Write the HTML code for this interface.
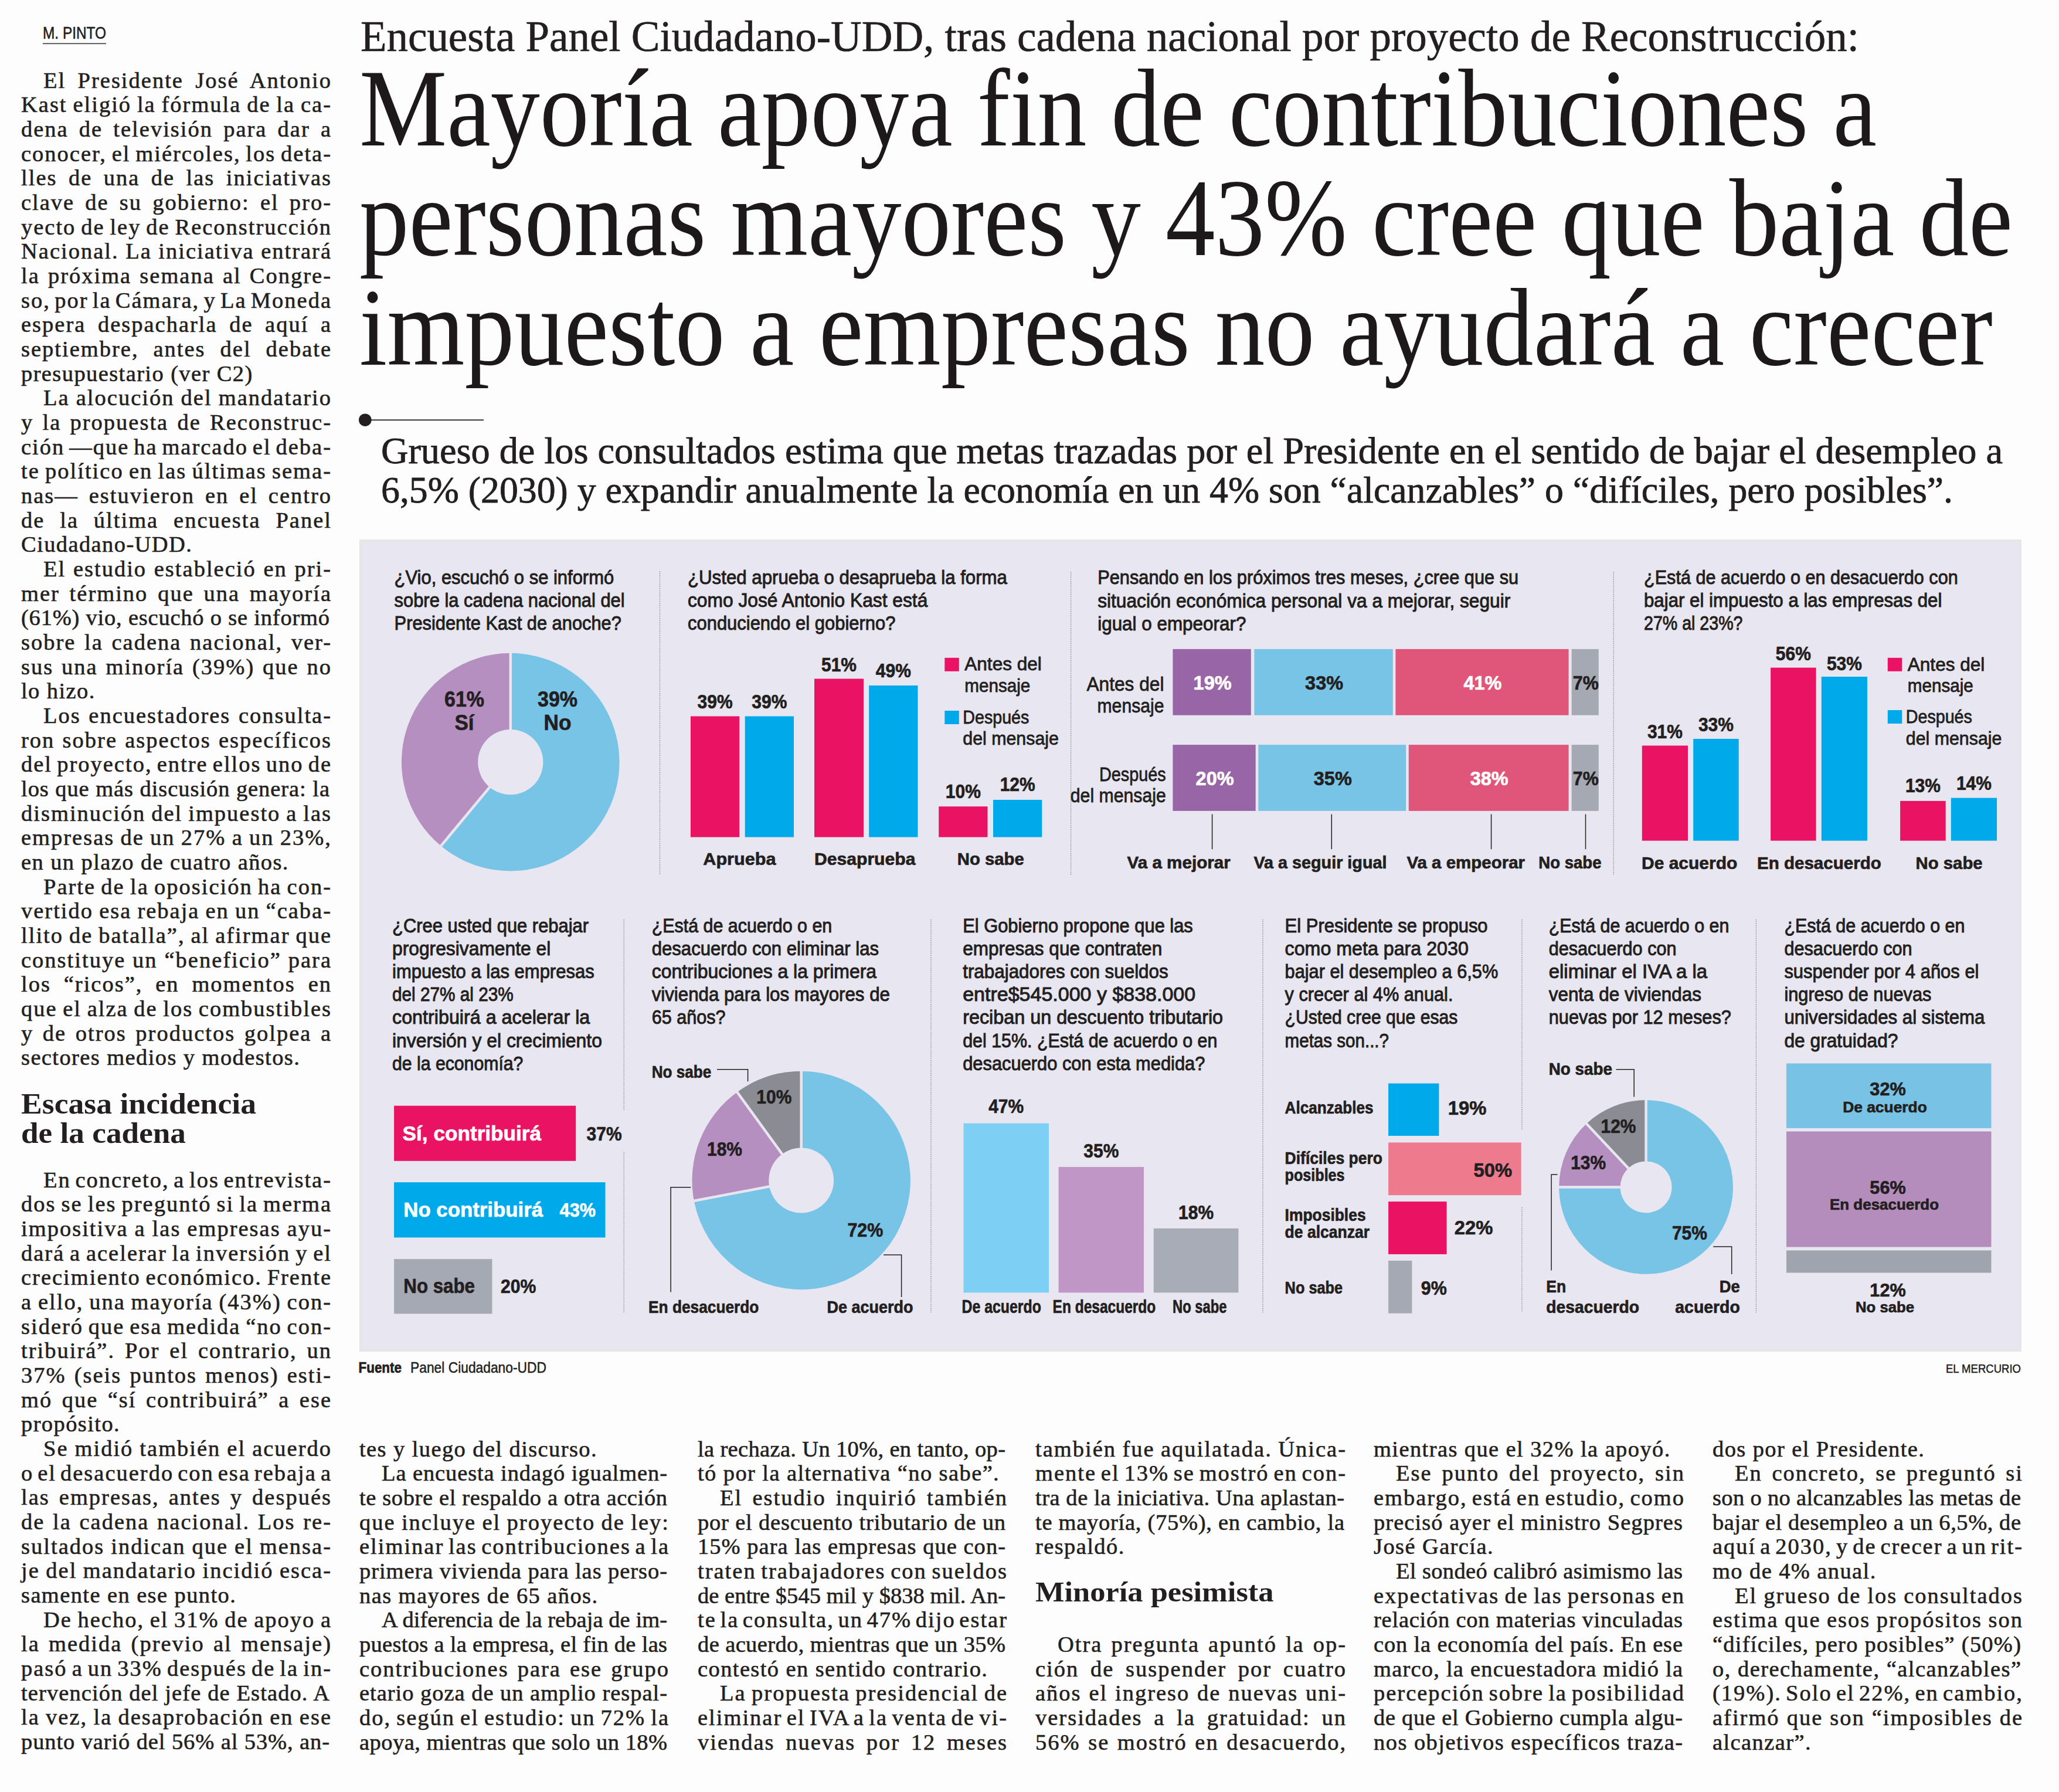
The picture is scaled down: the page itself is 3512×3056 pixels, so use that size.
<!DOCTYPE html>
<html><head><meta charset="utf-8"><style>
html,body{margin:0;padding:0;background:#fdfdfd;overflow:hidden;width:3512px;height:3056px;}
svg{display:block;}
text{font-kerning:normal;}
</style></head><body>
<svg width="3512" height="3056" viewBox="0 0 3512 3056" fill="#231f20">
<rect x="0" y="0" width="3512" height="3056" fill="#fdfdfd"/>
<text x="74.0" y="149.5" font-family="Liberation Serif" font-size="38.5" letter-spacing="2.0" word-spacing="8.72" stroke="#231f20" stroke-width="0.6">El Presidente José Antonio</text>
<text x="36.0" y="191.2" font-family="Liberation Serif" font-size="38.5" letter-spacing="2.0" word-spacing="-1.80" stroke="#231f20" stroke-width="0.6">Kast eligió la fórmula de la ca-</text>
<text x="36.0" y="232.8" font-family="Liberation Serif" font-size="38.5" letter-spacing="2.0" word-spacing="6.53" stroke="#231f20" stroke-width="0.6">dena de televisión para dar a</text>
<text x="36.0" y="274.5" font-family="Liberation Serif" font-size="38.5" letter-spacing="2.0" word-spacing="-2.84" stroke="#231f20" stroke-width="0.6">conocer, el miércoles, los deta-</text>
<text x="36.0" y="316.2" font-family="Liberation Serif" font-size="38.5" letter-spacing="2.0" word-spacing="7.83" stroke="#231f20" stroke-width="0.6">lles de una de las iniciativas</text>
<text x="36.0" y="357.9" font-family="Liberation Serif" font-size="38.5" letter-spacing="2.0" word-spacing="6.52" stroke="#231f20" stroke-width="0.6">clave de su gobierno: el pro-</text>
<text x="36.0" y="399.5" font-family="Liberation Serif" font-size="38.5" letter-spacing="2.0" word-spacing="-2.77" stroke="#231f20" stroke-width="0.6">yecto de ley de Reconstrucción</text>
<text x="36.0" y="441.2" font-family="Liberation Serif" font-size="38.5" letter-spacing="2.0" word-spacing="-0.06" stroke="#231f20" stroke-width="0.6">Nacional. La iniciativa entrará</text>
<text x="36.0" y="482.9" font-family="Liberation Serif" font-size="38.5" letter-spacing="2.0" word-spacing="2.50" stroke="#231f20" stroke-width="0.6">la próxima semana al Congre-</text>
<text x="36.0" y="524.5" font-family="Liberation Serif" font-size="38.5" letter-spacing="2.0" word-spacing="-4.35" stroke="#231f20" stroke-width="0.6">so, por la Cámara, y La Moneda</text>
<text x="36.0" y="566.2" font-family="Liberation Serif" font-size="38.5" letter-spacing="2.0" word-spacing="8.94" stroke="#231f20" stroke-width="0.6">espera despacharla de aquí a</text>
<text x="36.0" y="607.9" font-family="Liberation Serif" font-size="38.5" letter-spacing="2.0" word-spacing="13.33" stroke="#231f20" stroke-width="0.6">septiembre, antes del debate</text>
<text x="36.0" y="649.5" font-family="Liberation Serif" font-size="38.5" letter-spacing="1.4" stroke="#231f20" stroke-width="0.6">presupuestario (ver C2)</text>
<text x="74.0" y="691.2" font-family="Liberation Serif" font-size="38.5" letter-spacing="2.0" word-spacing="-0.45" stroke="#231f20" stroke-width="0.6">La alocución del mandatario</text>
<text x="36.0" y="732.9" font-family="Liberation Serif" font-size="38.5" letter-spacing="2.0" word-spacing="3.61" stroke="#231f20" stroke-width="0.6">y la propuesta de Reconstruc-</text>
<text x="36.0" y="774.6" font-family="Liberation Serif" font-size="38.5" letter-spacing="2.0" word-spacing="-3.73" stroke="#231f20" stroke-width="0.6">ción —que ha marcado el deba-</text>
<text x="36.0" y="816.2" font-family="Liberation Serif" font-size="38.5" letter-spacing="2.0" word-spacing="-2.39" stroke="#231f20" stroke-width="0.6">te político en las últimas sema-</text>
<text x="36.0" y="857.9" font-family="Liberation Serif" font-size="38.5" letter-spacing="2.0" word-spacing="6.25" stroke="#231f20" stroke-width="0.6">nas— estuvieron en el centro</text>
<text x="36.0" y="899.6" font-family="Liberation Serif" font-size="38.5" letter-spacing="2.0" word-spacing="14.23" stroke="#231f20" stroke-width="0.6">de la última encuesta Panel</text>
<text x="36.0" y="941.2" font-family="Liberation Serif" font-size="38.5" letter-spacing="1.4" stroke="#231f20" stroke-width="0.6">Ciudadano-UDD.</text>
<text x="74.0" y="982.9" font-family="Liberation Serif" font-size="38.5" letter-spacing="2.0" word-spacing="1.05" stroke="#231f20" stroke-width="0.6">El estudio estableció en pri-</text>
<text x="36.0" y="1024.6" font-family="Liberation Serif" font-size="38.5" letter-spacing="2.0" word-spacing="5.14" stroke="#231f20" stroke-width="0.6">mer término que una mayoría</text>
<text x="36.0" y="1066.2" font-family="Liberation Serif" font-size="38.5" textLength="528.0" lengthAdjust="spacing" letter-spacing="2.0" stroke="#231f20" stroke-width="0.6">(61%) vio, escuchó o se informó</text>
<text x="36.0" y="1107.9" font-family="Liberation Serif" font-size="38.5" letter-spacing="2.0" word-spacing="3.05" stroke="#231f20" stroke-width="0.6">sobre la cadena nacional, ver-</text>
<text x="36.0" y="1149.6" font-family="Liberation Serif" font-size="38.5" letter-spacing="2.0" word-spacing="2.20" stroke="#231f20" stroke-width="0.6">sus una minoría (39%) que no</text>
<text x="36.0" y="1191.2" font-family="Liberation Serif" font-size="38.5" letter-spacing="1.4" stroke="#231f20" stroke-width="0.6">lo hizo.</text>
<text x="74.0" y="1232.9" font-family="Liberation Serif" font-size="38.5" letter-spacing="2.0" word-spacing="1.98" stroke="#231f20" stroke-width="0.6">Los encuestadores consulta-</text>
<text x="36.0" y="1274.6" font-family="Liberation Serif" font-size="38.5" letter-spacing="2.0" word-spacing="1.65" stroke="#231f20" stroke-width="0.6">ron sobre aspectos específicos</text>
<text x="36.0" y="1316.3" font-family="Liberation Serif" font-size="38.5" letter-spacing="2.0" word-spacing="-3.45" stroke="#231f20" stroke-width="0.6">del proyecto, entre ellos uno de</text>
<text x="36.0" y="1357.9" font-family="Liberation Serif" font-size="38.5" textLength="528.0" lengthAdjust="spacing" letter-spacing="2.0" stroke="#231f20" stroke-width="0.6">los que más discusión genera: la</text>
<text x="36.0" y="1399.6" font-family="Liberation Serif" font-size="38.5" letter-spacing="2.0" word-spacing="-1.73" stroke="#231f20" stroke-width="0.6">disminución del impuesto a las</text>
<text x="36.0" y="1441.3" font-family="Liberation Serif" font-size="38.5" letter-spacing="2.0" word-spacing="-1.37" stroke="#231f20" stroke-width="0.6">empresas de un 27% a un 23%,</text>
<text x="36.0" y="1482.9" font-family="Liberation Serif" font-size="38.5" letter-spacing="1.4" stroke="#231f20" stroke-width="0.6">en un plazo de cuatro años.</text>
<text x="74.0" y="1524.6" font-family="Liberation Serif" font-size="38.5" letter-spacing="2.0" word-spacing="-2.37" stroke="#231f20" stroke-width="0.6">Parte de la oposición ha con-</text>
<text x="36.0" y="1566.3" font-family="Liberation Serif" font-size="38.5" letter-spacing="2.0" word-spacing="-1.53" stroke="#231f20" stroke-width="0.6">vertido esa rebaja en un “caba-</text>
<text x="36.0" y="1608.0" font-family="Liberation Serif" font-size="38.5" letter-spacing="2.0" word-spacing="-1.70" stroke="#231f20" stroke-width="0.6">llito de batalla”, al afirmar que</text>
<text x="36.0" y="1649.6" font-family="Liberation Serif" font-size="38.5" letter-spacing="2.0" word-spacing="0.24" stroke="#231f20" stroke-width="0.6">constituye un “beneficio” para</text>
<text x="36.0" y="1691.3" font-family="Liberation Serif" font-size="38.5" letter-spacing="2.0" word-spacing="10.21" stroke="#231f20" stroke-width="0.6">los “ricos”, en momentos en</text>
<text x="36.0" y="1733.0" font-family="Liberation Serif" font-size="38.5" letter-spacing="2.0" word-spacing="-1.98" stroke="#231f20" stroke-width="0.6">que el alza de los combustibles</text>
<text x="36.0" y="1774.6" font-family="Liberation Serif" font-size="38.5" letter-spacing="2.0" word-spacing="3.95" stroke="#231f20" stroke-width="0.6">y de otros productos golpea a</text>
<text x="36.0" y="1816.3" font-family="Liberation Serif" font-size="38.5" letter-spacing="1.4" stroke="#231f20" stroke-width="0.6">sectores medios y modestos.</text>
<text x="74.0" y="2024.5" font-family="Liberation Serif" font-size="38.5" letter-spacing="2.0" word-spacing="-3.98" stroke="#231f20" stroke-width="0.6">En concreto, a los entrevista-</text>
<text x="36.0" y="2066.2" font-family="Liberation Serif" font-size="38.5" letter-spacing="2.0" word-spacing="-2.55" stroke="#231f20" stroke-width="0.6">dos se les preguntó si la merma</text>
<text x="36.0" y="2107.8" font-family="Liberation Serif" font-size="38.5" letter-spacing="2.0" word-spacing="-0.64" stroke="#231f20" stroke-width="0.6">impositiva a las empresas ayu-</text>
<text x="36.0" y="2149.5" font-family="Liberation Serif" font-size="38.5" letter-spacing="2.0" word-spacing="-2.83" stroke="#231f20" stroke-width="0.6">dará a acelerar la inversión y el</text>
<text x="36.0" y="2191.2" font-family="Liberation Serif" font-size="38.5" letter-spacing="2.0" word-spacing="-2.93" stroke="#231f20" stroke-width="0.6">crecimiento económico. Frente</text>
<text x="36.0" y="2232.8" font-family="Liberation Serif" font-size="38.5" letter-spacing="2.0" word-spacing="-1.78" stroke="#231f20" stroke-width="0.6">a ello, una mayoría (43%) con-</text>
<text x="36.0" y="2274.5" font-family="Liberation Serif" font-size="38.5" letter-spacing="2.0" word-spacing="-2.86" stroke="#231f20" stroke-width="0.6">sideró que esa medida “no con-</text>
<text x="36.0" y="2316.2" font-family="Liberation Serif" font-size="38.5" letter-spacing="2.0" word-spacing="5.28" stroke="#231f20" stroke-width="0.6">tribuirá”. Por el contrario, un</text>
<text x="36.0" y="2357.9" font-family="Liberation Serif" font-size="38.5" letter-spacing="2.0" word-spacing="2.51" stroke="#231f20" stroke-width="0.6">37% (seis puntos menos) esti-</text>
<text x="36.0" y="2399.5" font-family="Liberation Serif" font-size="38.5" letter-spacing="2.0" word-spacing="4.82" stroke="#231f20" stroke-width="0.6">mó que “sí contribuirá” a ese</text>
<text x="36.0" y="2441.2" font-family="Liberation Serif" font-size="38.5" letter-spacing="1.4" stroke="#231f20" stroke-width="0.6">propósito.</text>
<text x="74.0" y="2482.9" font-family="Liberation Serif" font-size="38.5" letter-spacing="2.0" word-spacing="-0.62" stroke="#231f20" stroke-width="0.6">Se midió también el acuerdo</text>
<text x="36.0" y="2524.5" font-family="Liberation Serif" font-size="38.5" letter-spacing="2.0" word-spacing="-4.64" stroke="#231f20" stroke-width="0.6">o el desacuerdo con esa rebaja a</text>
<text x="36.0" y="2566.2" font-family="Liberation Serif" font-size="38.5" letter-spacing="2.0" word-spacing="4.40" stroke="#231f20" stroke-width="0.6">las empresas, antes y después</text>
<text x="36.0" y="2607.9" font-family="Liberation Serif" font-size="38.5" letter-spacing="2.0" word-spacing="2.08" stroke="#231f20" stroke-width="0.6">de la cadena nacional. Los re-</text>
<text x="36.0" y="2649.6" font-family="Liberation Serif" font-size="38.5" letter-spacing="2.0" word-spacing="-0.64" stroke="#231f20" stroke-width="0.6">sultados indican que el mensa-</text>
<text x="36.0" y="2691.2" font-family="Liberation Serif" font-size="38.5" letter-spacing="2.0" word-spacing="-1.12" stroke="#231f20" stroke-width="0.6">je del mandatario incidió esca-</text>
<text x="36.0" y="2732.9" font-family="Liberation Serif" font-size="38.5" letter-spacing="1.4" stroke="#231f20" stroke-width="0.6">samente en ese punto.</text>
<text x="74.0" y="2774.6" font-family="Liberation Serif" font-size="38.5" letter-spacing="2.0" word-spacing="-2.01" stroke="#231f20" stroke-width="0.6">De hecho, el 31% de apoyo a</text>
<text x="36.0" y="2816.2" font-family="Liberation Serif" font-size="38.5" letter-spacing="2.0" word-spacing="3.62" stroke="#231f20" stroke-width="0.6">la medida (previo al mensaje)</text>
<text x="36.0" y="2857.9" font-family="Liberation Serif" font-size="38.5" letter-spacing="2.0" word-spacing="-3.56" stroke="#231f20" stroke-width="0.6">pasó a un 33% después de la in-</text>
<text x="36.0" y="2899.6" font-family="Liberation Serif" font-size="38.5" textLength="528.0" lengthAdjust="spacing" letter-spacing="2.0" stroke="#231f20" stroke-width="0.6">tervención del jefe de Estado. A</text>
<text x="36.0" y="2941.2" font-family="Liberation Serif" font-size="38.5" letter-spacing="2.0" word-spacing="-1.32" stroke="#231f20" stroke-width="0.6">la vez, la desaprobación en ese</text>
<text x="36.0" y="2982.9" font-family="Liberation Serif" font-size="38.5" textLength="528.0" lengthAdjust="spacing" letter-spacing="2.0" stroke="#231f20" stroke-width="0.6">punto varió del 56% al 53%, an-</text>
<text x="613.0" y="2483.5" font-family="Liberation Serif" font-size="38.5" letter-spacing="1.4" stroke="#231f20" stroke-width="0.6">tes y luego del discurso.</text>
<text x="651.0" y="2525.2" font-family="Liberation Serif" font-size="38.5" textLength="489.0" lengthAdjust="spacing" letter-spacing="2.0" stroke="#231f20" stroke-width="0.6">La encuesta indagó igualmen-</text>
<text x="613.0" y="2566.8" font-family="Liberation Serif" font-size="38.5" textLength="527.0" lengthAdjust="spacing" letter-spacing="2.0" stroke="#231f20" stroke-width="0.6">te sobre el respaldo a otra acción</text>
<text x="613.0" y="2608.5" font-family="Liberation Serif" font-size="38.5" letter-spacing="2.0" word-spacing="-1.32" stroke="#231f20" stroke-width="0.6">que incluye el proyecto de ley:</text>
<text x="613.0" y="2650.2" font-family="Liberation Serif" font-size="38.5" letter-spacing="2.0" word-spacing="-4.02" stroke="#231f20" stroke-width="0.6">eliminar las contribuciones a la</text>
<text x="613.0" y="2691.8" font-family="Liberation Serif" font-size="38.5" textLength="527.0" lengthAdjust="spacing" letter-spacing="2.0" stroke="#231f20" stroke-width="0.6">primera vivienda para las perso-</text>
<text x="613.0" y="2733.5" font-family="Liberation Serif" font-size="38.5" letter-spacing="1.4" stroke="#231f20" stroke-width="0.6">nas mayores de 65 años.</text>
<text x="651.0" y="2775.2" font-family="Liberation Serif" font-size="38.5" textLength="489.0" lengthAdjust="spacing" letter-spacing="2.0" stroke="#231f20" stroke-width="0.6">A diferencia de la rebaja de im-</text>
<text x="613.0" y="2816.9" font-family="Liberation Serif" font-size="38.5" textLength="527.0" lengthAdjust="spacing" letter-spacing="2.0" stroke="#231f20" stroke-width="0.6">puestos a la empresa, el fin de las</text>
<text x="613.0" y="2858.5" font-family="Liberation Serif" font-size="38.5" letter-spacing="2.0" word-spacing="3.41" stroke="#231f20" stroke-width="0.6">contribuciones para ese grupo</text>
<text x="613.0" y="2900.2" font-family="Liberation Serif" font-size="38.5" textLength="527.0" lengthAdjust="spacing" letter-spacing="2.0" stroke="#231f20" stroke-width="0.6">etario goza de un amplio respal-</text>
<text x="613.0" y="2941.9" font-family="Liberation Serif" font-size="38.5" letter-spacing="2.0" word-spacing="-2.54" stroke="#231f20" stroke-width="0.6">do, según el estudio: un 72% la</text>
<text x="613.0" y="2983.5" font-family="Liberation Serif" font-size="38.5" textLength="527.0" lengthAdjust="spacing" letter-spacing="2.0" stroke="#231f20" stroke-width="0.6">apoya, mientras que solo un 18%</text>
<text x="1190.0" y="2483.5" font-family="Liberation Serif" font-size="38.5" textLength="527.0" lengthAdjust="spacing" letter-spacing="2.0" stroke="#231f20" stroke-width="0.6">la rechaza. Un 10%, en tanto, op-</text>
<text x="1190.0" y="2525.2" font-family="Liberation Serif" font-size="38.5" letter-spacing="1.4" stroke="#231f20" stroke-width="0.6">tó por la alternativa “no sabe”.</text>
<text x="1228.0" y="2566.8" font-family="Liberation Serif" font-size="38.5" letter-spacing="2.0" word-spacing="5.59" stroke="#231f20" stroke-width="0.6">El estudio inquirió también</text>
<text x="1190.0" y="2608.5" font-family="Liberation Serif" font-size="38.5" textLength="527.0" lengthAdjust="spacing" letter-spacing="2.0" stroke="#231f20" stroke-width="0.6">por el descuento tributario de un</text>
<text x="1190.0" y="2650.2" font-family="Liberation Serif" font-size="38.5" textLength="527.0" lengthAdjust="spacing" letter-spacing="2.0" stroke="#231f20" stroke-width="0.6">15% para las empresas que con-</text>
<text x="1190.0" y="2691.8" font-family="Liberation Serif" font-size="38.5" letter-spacing="2.0" word-spacing="-2.91" stroke="#231f20" stroke-width="0.6">traten trabajadores con sueldos</text>
<text x="1190.0" y="2733.5" font-family="Liberation Serif" font-size="38.5" textLength="527.0" lengthAdjust="spacing" letter-spacing="2.0" stroke="#231f20" stroke-width="0.6">de entre $545 mil y $838 mil. An-</text>
<text x="1190.0" y="2775.2" font-family="Liberation Serif" font-size="38.5" letter-spacing="2.0" word-spacing="-4.98" stroke="#231f20" stroke-width="0.6">te la consulta, un 47% dijo estar</text>
<text x="1190.0" y="2816.9" font-family="Liberation Serif" font-size="38.5" textLength="527.0" lengthAdjust="spacing" letter-spacing="2.0" stroke="#231f20" stroke-width="0.6">de acuerdo, mientras que un 35%</text>
<text x="1190.0" y="2858.5" font-family="Liberation Serif" font-size="38.5" letter-spacing="1.4" stroke="#231f20" stroke-width="0.6">contestó en sentido contrario.</text>
<text x="1228.0" y="2900.2" font-family="Liberation Serif" font-size="38.5" letter-spacing="2.0" word-spacing="-2.17" stroke="#231f20" stroke-width="0.6">La propuesta presidencial de</text>
<text x="1190.0" y="2941.9" font-family="Liberation Serif" font-size="38.5" letter-spacing="2.0" word-spacing="-4.16" stroke="#231f20" stroke-width="0.6">eliminar el IVA a la venta de vi-</text>
<text x="1190.0" y="2983.5" font-family="Liberation Serif" font-size="38.5" letter-spacing="2.0" word-spacing="7.02" stroke="#231f20" stroke-width="0.6">viendas nuevas por 12 meses</text>
<text x="1766.0" y="2483.5" font-family="Liberation Serif" font-size="38.5" letter-spacing="2.0" word-spacing="-1.21" stroke="#231f20" stroke-width="0.6">también fue aquilatada. Única-</text>
<text x="1766.0" y="2525.2" font-family="Liberation Serif" font-size="38.5" letter-spacing="2.0" word-spacing="-3.83" stroke="#231f20" stroke-width="0.6">mente el 13% se mostró en con-</text>
<text x="1766.0" y="2566.8" font-family="Liberation Serif" font-size="38.5" textLength="529.0" lengthAdjust="spacing" letter-spacing="2.0" stroke="#231f20" stroke-width="0.6">tra de la iniciativa. Una aplastan-</text>
<text x="1766.0" y="2608.5" font-family="Liberation Serif" font-size="38.5" textLength="529.0" lengthAdjust="spacing" letter-spacing="2.0" stroke="#231f20" stroke-width="0.6">te mayoría, (75%), en cambio, la</text>
<text x="1766.0" y="2650.2" font-family="Liberation Serif" font-size="38.5" letter-spacing="1.4" stroke="#231f20" stroke-width="0.6">respaldó.</text>
<text x="1804.0" y="2816.9" font-family="Liberation Serif" font-size="38.5" letter-spacing="2.0" word-spacing="3.38" stroke="#231f20" stroke-width="0.6">Otra pregunta apuntó la op-</text>
<text x="1766.0" y="2858.5" font-family="Liberation Serif" font-size="38.5" letter-spacing="2.0" word-spacing="8.10" stroke="#231f20" stroke-width="0.6">ción de suspender por cuatro</text>
<text x="1766.0" y="2900.2" font-family="Liberation Serif" font-size="38.5" letter-spacing="2.0" word-spacing="1.18" stroke="#231f20" stroke-width="0.6">años el ingreso de nuevas uni-</text>
<text x="1766.0" y="2941.9" font-family="Liberation Serif" font-size="38.5" letter-spacing="2.0" word-spacing="8.13" stroke="#231f20" stroke-width="0.6">versidades a la gratuidad: un</text>
<text x="1766.0" y="2983.5" font-family="Liberation Serif" font-size="38.5" letter-spacing="2.0" word-spacing="1.95" stroke="#231f20" stroke-width="0.6">56% se mostró en desacuerdo,</text>
<text x="2343.0" y="2483.5" font-family="Liberation Serif" font-size="38.5" letter-spacing="1.4" stroke="#231f20" stroke-width="0.6">mientras que el 32% la apoyó.</text>
<text x="2381.0" y="2525.2" font-family="Liberation Serif" font-size="38.5" letter-spacing="2.0" word-spacing="5.23" stroke="#231f20" stroke-width="0.6">Ese punto del proyecto, sin</text>
<text x="2343.0" y="2566.8" font-family="Liberation Serif" font-size="38.5" letter-spacing="2.0" word-spacing="-3.43" stroke="#231f20" stroke-width="0.6">embargo, está en estudio, como</text>
<text x="2343.0" y="2608.5" font-family="Liberation Serif" font-size="38.5" textLength="529.0" lengthAdjust="spacing" letter-spacing="2.0" stroke="#231f20" stroke-width="0.6">precisó ayer el ministro Segpres</text>
<text x="2343.0" y="2650.2" font-family="Liberation Serif" font-size="38.5" letter-spacing="1.4" stroke="#231f20" stroke-width="0.6">José García.</text>
<text x="2381.0" y="2691.8" font-family="Liberation Serif" font-size="38.5" textLength="491.0" lengthAdjust="spacing" letter-spacing="2.0" stroke="#231f20" stroke-width="0.6">El sondeó calibró asimismo las</text>
<text x="2343.0" y="2733.5" font-family="Liberation Serif" font-size="38.5" letter-spacing="2.0" word-spacing="-2.48" stroke="#231f20" stroke-width="0.6">expectativas de las personas en</text>
<text x="2343.0" y="2775.2" font-family="Liberation Serif" font-size="38.5" textLength="529.0" lengthAdjust="spacing" letter-spacing="2.0" stroke="#231f20" stroke-width="0.6">relación con materias vinculadas</text>
<text x="2343.0" y="2816.9" font-family="Liberation Serif" font-size="38.5" textLength="529.0" lengthAdjust="spacing" letter-spacing="2.0" stroke="#231f20" stroke-width="0.6">con la economía del país. En ese</text>
<text x="2343.0" y="2858.5" font-family="Liberation Serif" font-size="38.5" textLength="529.0" lengthAdjust="spacing" letter-spacing="2.0" stroke="#231f20" stroke-width="0.6">marco, la encuestadora midió la</text>
<text x="2343.0" y="2900.2" font-family="Liberation Serif" font-size="38.5" letter-spacing="2.0" word-spacing="-3.68" stroke="#231f20" stroke-width="0.6">percepción sobre la posibilidad</text>
<text x="2343.0" y="2941.9" font-family="Liberation Serif" font-size="38.5" textLength="529.0" lengthAdjust="spacing" letter-spacing="2.0" stroke="#231f20" stroke-width="0.6">de que el Gobierno cumpla algu-</text>
<text x="2343.0" y="2983.5" font-family="Liberation Serif" font-size="38.5" textLength="529.0" lengthAdjust="spacing" letter-spacing="2.0" stroke="#231f20" stroke-width="0.6">nos objetivos específicos traza-</text>
<text x="2921.0" y="2483.5" font-family="Liberation Serif" font-size="38.5" letter-spacing="1.4" stroke="#231f20" stroke-width="0.6">dos por el Presidente.</text>
<text x="2959.0" y="2525.2" font-family="Liberation Serif" font-size="38.5" letter-spacing="2.0" word-spacing="4.99" stroke="#231f20" stroke-width="0.6">En concreto, se preguntó si</text>
<text x="2921.0" y="2566.8" font-family="Liberation Serif" font-size="38.5" textLength="528.0" lengthAdjust="spacing" letter-spacing="2.0" stroke="#231f20" stroke-width="0.6">son o no alcanzables las metas de</text>
<text x="2921.0" y="2608.5" font-family="Liberation Serif" font-size="38.5" textLength="528.0" lengthAdjust="spacing" letter-spacing="2.0" stroke="#231f20" stroke-width="0.6">bajar el desempleo a un 6,5%, de</text>
<text x="2921.0" y="2650.2" font-family="Liberation Serif" font-size="38.5" letter-spacing="2.0" word-spacing="-4.65" stroke="#231f20" stroke-width="0.6">aquí a 2030, y de crecer a un rit-</text>
<text x="2921.0" y="2691.8" font-family="Liberation Serif" font-size="38.5" letter-spacing="1.4" stroke="#231f20" stroke-width="0.6">mo de 4% anual.</text>
<text x="2959.0" y="2733.5" font-family="Liberation Serif" font-size="38.5" letter-spacing="2.0" word-spacing="-0.61" stroke="#231f20" stroke-width="0.6">El grueso de los consultados</text>
<text x="2921.0" y="2775.2" font-family="Liberation Serif" font-size="38.5" letter-spacing="2.0" word-spacing="-1.20" stroke="#231f20" stroke-width="0.6">estima que esos propósitos son</text>
<text x="2921.0" y="2816.9" font-family="Liberation Serif" font-size="38.5" textLength="528.0" lengthAdjust="spacing" letter-spacing="2.0" stroke="#231f20" stroke-width="0.6">“difíciles, pero posibles” (50%)</text>
<text x="2921.0" y="2858.5" font-family="Liberation Serif" font-size="38.5" textLength="528.0" lengthAdjust="spacing" letter-spacing="2.0" stroke="#231f20" stroke-width="0.6">o, derechamente, “alcanzables”</text>
<text x="2921.0" y="2900.2" font-family="Liberation Serif" font-size="38.5" letter-spacing="2.0" word-spacing="-4.37" stroke="#231f20" stroke-width="0.6">(19%). Solo el 22%, en cambio,</text>
<text x="2921.0" y="2941.9" font-family="Liberation Serif" font-size="38.5" letter-spacing="2.0" word-spacing="0.38" stroke="#231f20" stroke-width="0.6">afirmó que son “imposibles de</text>
<text x="2921.0" y="2983.5" font-family="Liberation Serif" font-size="38.5" letter-spacing="1.4" stroke="#231f20" stroke-width="0.6">alcanzar”.</text>
<text x="36.0" y="1899.0" font-family="Liberation Serif" font-size="50" font-weight="700" textLength="401.0" lengthAdjust="spacingAndGlyphs">Escasa incidencia</text>
<text x="36.0" y="1949.0" font-family="Liberation Serif" font-size="50" font-weight="700" textLength="281.0" lengthAdjust="spacingAndGlyphs">de la cadena</text>
<text x="1766.0" y="2731.4" font-family="Liberation Serif" font-size="49" font-weight="700" textLength="406.5" lengthAdjust="spacingAndGlyphs">Minoría pesimista</text>
<text x="73.0" y="66.4" font-family="Liberation Sans" font-size="29" textLength="108.0" lengthAdjust="spacingAndGlyphs" stroke="#231f20" stroke-width="0.6">M. PINTO</text>
<rect x="73.0" y="73.5" width="108.0" height="1.7" fill="#444"/>
<text x="615.0" y="87.4" font-family="Liberation Serif" font-size="75" textLength="2556.0" lengthAdjust="spacingAndGlyphs" stroke="#231f20" stroke-width="0.7">Encuesta Panel Ciudadano-UDD, tras cadena nacional por proyecto de Reconstrucción:</text>
<text x="613.0" y="247.5" font-family="Liberation Serif" font-size="189" fill="#1d191a" textLength="2588.0" lengthAdjust="spacingAndGlyphs">Mayoría apoya fin de contribuciones a</text>
<text x="613.0" y="435.0" font-family="Liberation Serif" font-size="189" fill="#1d191a" textLength="2820.0" lengthAdjust="spacingAndGlyphs">personas mayores y 43% cree que baja de</text>
<text x="613.0" y="622.0" font-family="Liberation Serif" font-size="189" fill="#1d191a" textLength="2786.0" lengthAdjust="spacingAndGlyphs">impuesto a empresas no ayudará a crecer</text>
<circle cx="622.8" cy="716.2" r="10.8" fill="#231f20"/>
<rect x="622.0" y="715.4" width="203.0" height="1.8" fill="#231f20"/>
<text x="650.0" y="790.3" font-family="Liberation Serif" font-size="62.5" textLength="2766.0" lengthAdjust="spacingAndGlyphs" stroke="#231f20" stroke-width="0.8">Grueso de los consultados estima que metas trazadas por el Presidente en el sentido de bajar el desempleo a</text>
<text x="650.0" y="857.3" font-family="Liberation Serif" font-size="62.5" textLength="2681.0" lengthAdjust="spacingAndGlyphs" stroke="#231f20" stroke-width="0.8">6,5% (2030) y expandir anualmente la economía en un 4% son “alcanzables” o “difíciles, pero posibles”.</text>
<rect x="613.0" y="920.0" width="2835.0" height="1385.0" fill="#e8e6f0"/>
<rect x="615.5" y="922.5" width="2830" height="1380" fill="none" stroke="#e7e7e9" stroke-width="5"/>
<text x="611.5" y="2341.4" font-family="Liberation Sans" font-size="25" font-weight="700" textLength="73.5" lengthAdjust="spacingAndGlyphs" stroke="#231f20" stroke-width="0.7">Fuente</text>
<text x="700.0" y="2341.4" font-family="Liberation Sans" font-size="25" textLength="232.0" lengthAdjust="spacingAndGlyphs" stroke="#231f20" stroke-width="0.5">Panel Ciudadano-UDD</text>
<text x="3447.0" y="2341.0" font-family="Liberation Sans" font-size="21" text-anchor="end" textLength="128.0" lengthAdjust="spacingAndGlyphs" stroke="#231f20" stroke-width="0.5">EL MERCURIO</text>
<path d="M870.8,1299.6 L870.8,1113.8 A185.8,185.8 0 1 1 752.1,1442.6 Z" fill="#78c4e6"/>
<path d="M870.8,1299.6 L752.1,1442.6 A185.8,185.8 0 0 1 870.8,1113.8 Z" fill="#b68fc1"/>
<line x1="870.8" y1="1299.6" x2="870.8" y2="1111.8" stroke="#e8e6f0" stroke-width="4.5"/>
<line x1="870.8" y1="1299.6" x2="750.8" y2="1444.1" stroke="#e8e6f0" stroke-width="4.5"/>
<circle cx="870.8" cy="1299.6" r="55.6" fill="#e8e6f0"/>
<text x="792.0" y="1204.6" font-family="Liberation Sans" font-size="36" font-weight="700" text-anchor="middle" textLength="68.0" lengthAdjust="spacingAndGlyphs" stroke="#231f20" stroke-width="0.7">61%</text>
<text x="792.0" y="1244.7" font-family="Liberation Sans" font-size="36" font-weight="700" text-anchor="middle" textLength="33.0" lengthAdjust="spacingAndGlyphs" stroke="#231f20" stroke-width="0.7">Sí</text>
<text x="951.0" y="1204.6" font-family="Liberation Sans" font-size="36" font-weight="700" text-anchor="middle" textLength="68.0" lengthAdjust="spacingAndGlyphs" stroke="#231f20" stroke-width="0.7">39%</text>
<text x="951.0" y="1244.7" font-family="Liberation Sans" font-size="36" font-weight="700" text-anchor="middle" textLength="47.0" lengthAdjust="spacingAndGlyphs" stroke="#231f20" stroke-width="0.7">No</text>
<line x1="1125.5" y1="974.0" x2="1125.5" y2="1492.0" stroke="#85858d" stroke-width="1.3" stroke-dasharray="1.5 1.7"/>
<rect x="1177.9" y="1221.5" width="83.3" height="206.1" fill="#ea1262"/>
<text x="1219.6" y="1207.5" font-family="Liberation Sans" font-size="33" font-weight="700" text-anchor="middle" textLength="60.0" lengthAdjust="spacingAndGlyphs" stroke="#231f20" stroke-width="0.7">39%</text>
<rect x="1270.7" y="1221.5" width="83.3" height="206.1" fill="#00a9e9"/>
<text x="1312.3" y="1207.5" font-family="Liberation Sans" font-size="33" font-weight="700" text-anchor="middle" textLength="60.0" lengthAdjust="spacingAndGlyphs" stroke="#231f20" stroke-width="0.7">39%</text>
<rect x="1389.0" y="1157.5" width="84.0" height="270.1" fill="#ea1262"/>
<text x="1431.0" y="1144.6" font-family="Liberation Sans" font-size="33" font-weight="700" text-anchor="middle" textLength="60.0" lengthAdjust="spacingAndGlyphs" stroke="#231f20" stroke-width="0.7">51%</text>
<rect x="1482.2" y="1169.0" width="83.3" height="258.6" fill="#00a9e9"/>
<text x="1523.8" y="1155.0" font-family="Liberation Sans" font-size="33" font-weight="700" text-anchor="middle" textLength="60.0" lengthAdjust="spacingAndGlyphs" stroke="#231f20" stroke-width="0.7">49%</text>
<rect x="1601.2" y="1375.3" width="83.3" height="52.3" fill="#ea1262"/>
<text x="1642.8" y="1361.4" font-family="Liberation Sans" font-size="33" font-weight="700" text-anchor="middle" textLength="60.0" lengthAdjust="spacingAndGlyphs" stroke="#231f20" stroke-width="0.7">10%</text>
<rect x="1694.0" y="1364.0" width="83.3" height="63.6" fill="#00a9e9"/>
<text x="1735.7" y="1349.0" font-family="Liberation Sans" font-size="33" font-weight="700" text-anchor="middle" textLength="60.0" lengthAdjust="spacingAndGlyphs" stroke="#231f20" stroke-width="0.7">12%</text>
<rect x="1611.3" y="1121.8" width="24.5" height="23.0" fill="#ea1262"/>
<rect x="1611.3" y="1212.0" width="24.5" height="23.0" fill="#00a9e9"/>
<text x="1645.3" y="1142.8" font-family="Liberation Sans" font-size="31" textLength="131.5" lengthAdjust="spacingAndGlyphs" stroke="#231f20" stroke-width="0.8">Antes del</text>
<text x="1645.3" y="1179.5" font-family="Liberation Sans" font-size="31" textLength="112.0" lengthAdjust="spacingAndGlyphs" stroke="#231f20" stroke-width="0.8">mensaje</text>
<text x="1642.3" y="1233.7" font-family="Liberation Sans" font-size="31" textLength="113.0" lengthAdjust="spacingAndGlyphs" stroke="#231f20" stroke-width="0.8">Después</text>
<text x="1642.3" y="1270.4" font-family="Liberation Sans" font-size="31" textLength="163.6" lengthAdjust="spacingAndGlyphs" stroke="#231f20" stroke-width="0.8">del mensaje</text>
<text x="1199.3" y="1475.2" font-family="Liberation Sans" font-size="30" font-weight="700" textLength="124.1" lengthAdjust="spacingAndGlyphs" stroke="#231f20" stroke-width="0.7">Aprueba</text>
<text x="1389.0" y="1475.2" font-family="Liberation Sans" font-size="30" font-weight="700" textLength="172.4" lengthAdjust="spacingAndGlyphs" stroke="#231f20" stroke-width="0.7">Desaprueba</text>
<text x="1632.8" y="1475.2" font-family="Liberation Sans" font-size="30" font-weight="700" textLength="113.9" lengthAdjust="spacingAndGlyphs" stroke="#231f20" stroke-width="0.7">No sabe</text>
<line x1="1826.6" y1="975.0" x2="1826.6" y2="1492.0" stroke="#85858d" stroke-width="1.3" stroke-dasharray="1.5 1.7"/>
<rect x="2000.4" y="1106.9" width="133.4" height="112.8" fill="#9866a7"/>
<text x="2068.1" y="1175.5" font-family="Liberation Sans" font-size="34" font-weight="700" fill="#fff" text-anchor="middle" textLength="65.0" lengthAdjust="spacingAndGlyphs" stroke="#fff" stroke-width="0.7">19%</text>
<rect x="2139.4" y="1106.9" width="236.4" height="112.8" fill="#78c4e6"/>
<text x="2258.6" y="1175.5" font-family="Liberation Sans" font-size="34" font-weight="700" text-anchor="middle" textLength="65.0" lengthAdjust="spacingAndGlyphs" stroke="#231f20" stroke-width="0.7">33%</text>
<rect x="2380.4" y="1106.9" width="295.2" height="112.8" fill="#e0567a"/>
<text x="2529.0" y="1175.5" font-family="Liberation Sans" font-size="34" font-weight="700" fill="#fff" text-anchor="middle" textLength="65.0" lengthAdjust="spacingAndGlyphs" stroke="#fff" stroke-width="0.7">41%</text>
<rect x="2680.7" y="1106.9" width="46.1" height="112.8" fill="#a5a9b3"/>
<text x="2704.8" y="1175.5" font-family="Liberation Sans" font-size="34" font-weight="700" text-anchor="middle" textLength="44.0" lengthAdjust="spacingAndGlyphs" stroke="#231f20" stroke-width="0.7">7%</text>
<rect x="2000.4" y="1270.1" width="141.3" height="112.8" fill="#9866a7"/>
<text x="2072.1" y="1338.5" font-family="Liberation Sans" font-size="34" font-weight="700" fill="#fff" text-anchor="middle" textLength="65.0" lengthAdjust="spacingAndGlyphs" stroke="#fff" stroke-width="0.7">20%</text>
<rect x="2146.4" y="1270.1" width="251.8" height="112.8" fill="#78c4e6"/>
<text x="2273.3" y="1338.5" font-family="Liberation Sans" font-size="34" font-weight="700" text-anchor="middle" textLength="65.0" lengthAdjust="spacingAndGlyphs" stroke="#231f20" stroke-width="0.7">35%</text>
<rect x="2402.8" y="1270.1" width="272.8" height="112.8" fill="#e0567a"/>
<text x="2540.2" y="1338.5" font-family="Liberation Sans" font-size="34" font-weight="700" fill="#fff" text-anchor="middle" textLength="65.0" lengthAdjust="spacingAndGlyphs" stroke="#fff" stroke-width="0.7">38%</text>
<rect x="2680.7" y="1270.1" width="46.1" height="112.8" fill="#a5a9b3"/>
<text x="2704.8" y="1338.5" font-family="Liberation Sans" font-size="34" font-weight="700" text-anchor="middle" textLength="44.0" lengthAdjust="spacingAndGlyphs" stroke="#231f20" stroke-width="0.7">7%</text>
<text x="1985.5" y="1177.8" font-family="Liberation Sans" font-size="34" text-anchor="end" textLength="132.0" lengthAdjust="spacingAndGlyphs" stroke="#231f20" stroke-width="0.8">Antes del</text>
<text x="1985.5" y="1215.0" font-family="Liberation Sans" font-size="34" text-anchor="end" textLength="114.0" lengthAdjust="spacingAndGlyphs" stroke="#231f20" stroke-width="0.8">mensaje</text>
<text x="1988.8" y="1331.6" font-family="Liberation Sans" font-size="34" text-anchor="end" textLength="113.8" lengthAdjust="spacingAndGlyphs" stroke="#231f20" stroke-width="0.8">Después</text>
<text x="1988.8" y="1368.0" font-family="Liberation Sans" font-size="34" text-anchor="end" textLength="163.0" lengthAdjust="spacingAndGlyphs" stroke="#231f20" stroke-width="0.8">del mensaje</text>
<polyline points="2067.6,1388.5 2067.6,1448.2" fill="none" stroke="#231f20" stroke-width="1.5" />
<polyline points="2271.3,1388.5 2271.3,1448.2" fill="none" stroke="#231f20" stroke-width="1.5" />
<polyline points="2543.6,1388.5 2543.6,1448.2" fill="none" stroke="#231f20" stroke-width="1.5" />
<polyline points="2704.5,1388.5 2704.5,1448.2" fill="none" stroke="#231f20" stroke-width="1.5" />
<text x="1922.6" y="1480.8" font-family="Liberation Sans" font-size="30" font-weight="700" textLength="176.2" lengthAdjust="spacingAndGlyphs" stroke="#231f20" stroke-width="0.7">Va a mejorar</text>
<text x="2138.4" y="1480.8" font-family="Liberation Sans" font-size="30" font-weight="700" textLength="227.1" lengthAdjust="spacingAndGlyphs" stroke="#231f20" stroke-width="0.7">Va a seguir igual</text>
<text x="2399.5" y="1480.8" font-family="Liberation Sans" font-size="30" font-weight="700" textLength="201.5" lengthAdjust="spacingAndGlyphs" stroke="#231f20" stroke-width="0.7">Va a empeorar</text>
<text x="2624.3" y="1480.8" font-family="Liberation Sans" font-size="30" font-weight="700" textLength="107.2" lengthAdjust="spacingAndGlyphs" stroke="#231f20" stroke-width="0.7">No sabe</text>
<line x1="2752.3" y1="975.0" x2="2752.3" y2="1492.0" stroke="#85858d" stroke-width="1.3" stroke-dasharray="1.5 1.7"/>
<rect x="2800.8" y="1271.5" width="78.2" height="162.2" fill="#ea1262"/>
<text x="2839.9" y="1258.9" font-family="Liberation Sans" font-size="33" font-weight="700" text-anchor="middle" textLength="60.0" lengthAdjust="spacingAndGlyphs" stroke="#231f20" stroke-width="0.7">31%</text>
<rect x="2888.2" y="1260.0" width="77.5" height="173.7" fill="#00a9e9"/>
<text x="2926.9" y="1247.0" font-family="Liberation Sans" font-size="33" font-weight="700" text-anchor="middle" textLength="60.0" lengthAdjust="spacingAndGlyphs" stroke="#231f20" stroke-width="0.7">33%</text>
<rect x="3020.1" y="1138.6" width="77.5" height="295.1" fill="#ea1262"/>
<text x="3058.8" y="1126.4" font-family="Liberation Sans" font-size="33" font-weight="700" text-anchor="middle" textLength="60.0" lengthAdjust="spacingAndGlyphs" stroke="#231f20" stroke-width="0.7">56%</text>
<rect x="3106.8" y="1154.0" width="78.2" height="279.7" fill="#00a9e9"/>
<text x="3145.9" y="1142.8" font-family="Liberation Sans" font-size="33" font-weight="700" text-anchor="middle" textLength="60.0" lengthAdjust="spacingAndGlyphs" stroke="#231f20" stroke-width="0.7">53%</text>
<rect x="3241.1" y="1365.9" width="77.6" height="67.8" fill="#ea1262"/>
<text x="3279.9" y="1350.9" font-family="Liberation Sans" font-size="33" font-weight="700" text-anchor="middle" textLength="60.0" lengthAdjust="spacingAndGlyphs" stroke="#231f20" stroke-width="0.7">13%</text>
<rect x="3327.8" y="1360.7" width="78.2" height="73.0" fill="#00a9e9"/>
<text x="3366.9" y="1347.4" font-family="Liberation Sans" font-size="33" font-weight="700" text-anchor="middle" textLength="60.0" lengthAdjust="spacingAndGlyphs" stroke="#231f20" stroke-width="0.7">14%</text>
<rect x="3219.8" y="1121.8" width="24.5" height="23.0" fill="#ea1262"/>
<rect x="3219.8" y="1211.0" width="24.5" height="23.0" fill="#00a9e9"/>
<text x="3253.8" y="1143.5" font-family="Liberation Sans" font-size="31" textLength="131.5" lengthAdjust="spacingAndGlyphs" stroke="#231f20" stroke-width="0.8">Antes del</text>
<text x="3253.8" y="1179.5" font-family="Liberation Sans" font-size="31" textLength="112.0" lengthAdjust="spacingAndGlyphs" stroke="#231f20" stroke-width="0.8">mensaje</text>
<text x="3250.8" y="1233.0" font-family="Liberation Sans" font-size="31" textLength="113.0" lengthAdjust="spacingAndGlyphs" stroke="#231f20" stroke-width="0.8">Después</text>
<text x="3250.8" y="1270.4" font-family="Liberation Sans" font-size="31" textLength="163.6" lengthAdjust="spacingAndGlyphs" stroke="#231f20" stroke-width="0.8">del mensaje</text>
<text x="2800.0" y="1482.0" font-family="Liberation Sans" font-size="30" font-weight="700" textLength="163.3" lengthAdjust="spacingAndGlyphs" stroke="#231f20" stroke-width="0.7">De acuerdo</text>
<text x="2997.0" y="1482.0" font-family="Liberation Sans" font-size="30" font-weight="700" textLength="211.8" lengthAdjust="spacingAndGlyphs" stroke="#231f20" stroke-width="0.7">En desacuerdo</text>
<text x="3267.6" y="1482.0" font-family="Liberation Sans" font-size="30" font-weight="700" textLength="114.0" lengthAdjust="spacingAndGlyphs" stroke="#231f20" stroke-width="0.7">No sabe</text>
<rect x="672.1" y="1885.7" width="310.1" height="94.1" fill="#ea1262"/>
<text x="686.6" y="1944.8" font-family="Liberation Sans" font-size="35" font-weight="700" fill="#fff" textLength="236.5" lengthAdjust="spacingAndGlyphs" stroke="#fff" stroke-width="0.7">Sí, contribuirá</text>
<text x="1000.6" y="1944.8" font-family="Liberation Sans" font-size="34" font-weight="700" textLength="60.0" lengthAdjust="spacingAndGlyphs" stroke="#231f20" stroke-width="0.7">37%</text>
<rect x="672.1" y="2016.2" width="360.4" height="94.2" fill="#00a9e9"/>
<text x="688.3" y="2075.3" font-family="Liberation Sans" font-size="35" font-weight="700" fill="#fff" textLength="237.8" lengthAdjust="spacingAndGlyphs" stroke="#fff" stroke-width="0.7">No contribuirá</text>
<text x="954.6" y="2075.3" font-family="Liberation Sans" font-size="34" font-weight="700" fill="#fff" textLength="61.4" lengthAdjust="spacingAndGlyphs" stroke="#fff" stroke-width="0.7">43%</text>
<rect x="672.1" y="2147.1" width="167.3" height="93.3" fill="#a5a9b3"/>
<text x="688.3" y="2205.4" font-family="Liberation Sans" font-size="35" font-weight="700" textLength="121.7" lengthAdjust="spacingAndGlyphs" stroke="#231f20" stroke-width="0.7">No sabe</text>
<text x="853.9" y="2205.4" font-family="Liberation Sans" font-size="34" font-weight="700" textLength="60.4" lengthAdjust="spacingAndGlyphs" stroke="#231f20" stroke-width="0.7">20%</text>
<line x1="1064.2" y1="1568.0" x2="1064.2" y2="1894.0" stroke="#85858d" stroke-width="1.3" stroke-dasharray="1.5 1.7"/>
<line x1="1064.2" y1="1964.5" x2="1064.2" y2="2238.6" stroke="#85858d" stroke-width="1.3" stroke-dasharray="1.5 1.7"/>
<path d="M1366.7,2013.0 L1366.7,1826.8 A186.2,186.2 0 1 1 1183.8,2047.9 Z" fill="#78c4e6"/>
<path d="M1366.7,2013.0 L1183.8,2047.9 A186.2,186.2 0 0 1 1257.3,1862.4 Z" fill="#b68fc1"/>
<path d="M1366.7,2013.0 L1257.3,1862.4 A186.2,186.2 0 0 1 1366.7,1826.8 Z" fill="#8b8c93"/>
<line x1="1366.7" y1="2013.0" x2="1366.7" y2="1824.8" stroke="#e8e6f0" stroke-width="4.5"/>
<line x1="1366.7" y1="2013.0" x2="1181.8" y2="2048.3" stroke="#e8e6f0" stroke-width="4.5"/>
<line x1="1366.7" y1="2013.0" x2="1256.1" y2="1860.7" stroke="#e8e6f0" stroke-width="4.5"/>
<circle cx="1366.7" cy="2013.0" r="55.4" fill="#e8e6f0"/>
<text x="1320.3" y="1881.5" font-family="Liberation Sans" font-size="34" font-weight="700" text-anchor="middle" textLength="60.0" lengthAdjust="spacingAndGlyphs" stroke="#231f20" stroke-width="0.7">10%</text>
<text x="1236.0" y="1971.3" font-family="Liberation Sans" font-size="34" font-weight="700" text-anchor="middle" textLength="60.0" lengthAdjust="spacingAndGlyphs" stroke="#231f20" stroke-width="0.7">18%</text>
<text x="1475.9" y="2109.4" font-family="Liberation Sans" font-size="34" font-weight="700" text-anchor="middle" textLength="61.0" lengthAdjust="spacingAndGlyphs" stroke="#231f20" stroke-width="0.7">72%</text>
<text x="1111.7" y="1837.7" font-family="Liberation Sans" font-size="30" font-weight="700" textLength="101.7" lengthAdjust="spacingAndGlyphs" stroke="#231f20" stroke-width="0.7">No sabe</text>
<polyline points="1223.0,1823.7 1275.6,1823.7 1275.6,1844.3" fill="none" stroke="#231f20" stroke-width="1.5" />
<text x="1106.0" y="2238.6" font-family="Liberation Sans" font-size="30" font-weight="700" textLength="188.4" lengthAdjust="spacingAndGlyphs" stroke="#231f20" stroke-width="0.7">En desacuerdo</text>
<polyline points="1178.3,2024.8 1144.1,2024.8 1144.1,2203.6" fill="none" stroke="#231f20" stroke-width="1.5" />
<text x="1410.6" y="2238.6" font-family="Liberation Sans" font-size="30" font-weight="700" textLength="146.8" lengthAdjust="spacingAndGlyphs" stroke="#231f20" stroke-width="0.7">De acuerdo</text>
<polyline points="1507.0,2140.0 1537.6,2140.0 1537.6,2212.0" fill="none" stroke="#231f20" stroke-width="1.5" />
<line x1="1588.0" y1="1568.0" x2="1588.0" y2="2238.6" stroke="#85858d" stroke-width="1.3" stroke-dasharray="1.5 1.7"/>
<rect x="1643.5" y="1915.7" width="145.5" height="288.7" fill="#7dd0f4"/>
<text x="1716.2" y="1897.7" font-family="Liberation Sans" font-size="33" font-weight="700" text-anchor="middle" textLength="60.0" lengthAdjust="spacingAndGlyphs" stroke="#231f20" stroke-width="0.7">47%</text>
<rect x="1805.6" y="1990.1" width="145.5" height="214.3" fill="#bf96c6"/>
<text x="1878.3" y="1973.5" font-family="Liberation Sans" font-size="33" font-weight="700" text-anchor="middle" textLength="60.0" lengthAdjust="spacingAndGlyphs" stroke="#231f20" stroke-width="0.7">35%</text>
<rect x="1967.8" y="2094.9" width="144.6" height="109.5" fill="#a7acb6"/>
<text x="2040.1" y="2078.6" font-family="Liberation Sans" font-size="33" font-weight="700" text-anchor="middle" textLength="60.0" lengthAdjust="spacingAndGlyphs" stroke="#231f20" stroke-width="0.7">18%</text>
<text x="1640.5" y="2238.6" font-family="Liberation Sans" font-size="31" font-weight="700" textLength="135.4" lengthAdjust="spacingAndGlyphs" stroke="#231f20" stroke-width="0.7">De acuerdo</text>
<text x="1795.6" y="2238.6" font-family="Liberation Sans" font-size="31" font-weight="700" textLength="175.7" lengthAdjust="spacingAndGlyphs" stroke="#231f20" stroke-width="0.7">En desacuerdo</text>
<text x="2000.0" y="2238.6" font-family="Liberation Sans" font-size="31" font-weight="700" textLength="92.6" lengthAdjust="spacingAndGlyphs" stroke="#231f20" stroke-width="0.7">No sabe</text>
<line x1="2154.0" y1="1568.0" x2="2154.0" y2="2238.6" stroke="#85858d" stroke-width="1.3" stroke-dasharray="1.5 1.7"/>
<rect x="2368.1" y="1847.6" width="86.3" height="89.4" fill="#00a9e9"/>
<rect x="2368.1" y="1948.4" width="226.5" height="89.8" fill="#ee7a8e"/>
<rect x="2368.1" y="2049.1" width="99.5" height="89.8" fill="#ea1262"/>
<rect x="2368.1" y="2149.9" width="40.3" height="89.8" fill="#a5a9b3"/>
<text x="2469.8" y="1901.0" font-family="Liberation Sans" font-size="34" font-weight="700" textLength="65.7" lengthAdjust="spacingAndGlyphs" stroke="#231f20" stroke-width="0.7">19%</text>
<text x="2579.3" y="2007.0" font-family="Liberation Sans" font-size="34" font-weight="700" text-anchor="end" textLength="65.7" lengthAdjust="spacingAndGlyphs" stroke="#231f20" stroke-width="0.7">50%</text>
<text x="2480.7" y="2104.8" font-family="Liberation Sans" font-size="34" font-weight="700" textLength="65.7" lengthAdjust="spacingAndGlyphs" stroke="#231f20" stroke-width="0.7">22%</text>
<text x="2423.8" y="2207.7" font-family="Liberation Sans" font-size="34" font-weight="700" textLength="44.0" lengthAdjust="spacingAndGlyphs" stroke="#231f20" stroke-width="0.7">9%</text>
<text x="2191.6" y="1898.9" font-family="Liberation Sans" font-size="29" font-weight="700" textLength="151.0" lengthAdjust="spacingAndGlyphs" stroke="#231f20" stroke-width="0.7">Alcanzables</text>
<text x="2191.6" y="1985.2" font-family="Liberation Sans" font-size="29" font-weight="700" textLength="166.4" lengthAdjust="spacingAndGlyphs" stroke="#231f20" stroke-width="0.7">Difíciles pero</text>
<text x="2191.6" y="2014.0" font-family="Liberation Sans" font-size="29" font-weight="700" textLength="102.0" lengthAdjust="spacingAndGlyphs" stroke="#231f20" stroke-width="0.7">posibles</text>
<text x="2191.6" y="2082.0" font-family="Liberation Sans" font-size="29" font-weight="700" textLength="138.0" lengthAdjust="spacingAndGlyphs" stroke="#231f20" stroke-width="0.7">Imposibles</text>
<text x="2191.6" y="2111.3" font-family="Liberation Sans" font-size="29" font-weight="700" textLength="144.5" lengthAdjust="spacingAndGlyphs" stroke="#231f20" stroke-width="0.7">de alcanzar</text>
<text x="2191.6" y="2206.4" font-family="Liberation Sans" font-size="29" font-weight="700" textLength="98.6" lengthAdjust="spacingAndGlyphs" stroke="#231f20" stroke-width="0.7">No sabe</text>
<line x1="2595.9" y1="1568.0" x2="2595.9" y2="1927.0" stroke="#85858d" stroke-width="1.3" stroke-dasharray="1.5 1.7"/>
<line x1="2595.9" y1="2058.8" x2="2595.9" y2="2238.3" stroke="#85858d" stroke-width="1.3" stroke-dasharray="1.5 1.7"/>
<path d="M2807.6,2024.4 L2807.6,1876.0 A148.4,148.4 0 1 1 2659.2,2024.4 Z" fill="#78c4e6"/>
<path d="M2807.6,2024.4 L2659.2,2024.4 A148.4,148.4 0 0 1 2706.0,1916.2 Z" fill="#b68fc1"/>
<path d="M2807.6,2024.4 L2706.0,1916.2 A148.4,148.4 0 0 1 2807.6,1876.0 Z" fill="#8b8c93"/>
<line x1="2807.6" y1="2024.4" x2="2807.6" y2="1874.0" stroke="#e8e6f0" stroke-width="4.5"/>
<line x1="2807.6" y1="2024.4" x2="2657.2" y2="2024.4" stroke="#e8e6f0" stroke-width="4.5"/>
<line x1="2807.6" y1="2024.4" x2="2704.6" y2="1914.8" stroke="#e8e6f0" stroke-width="4.5"/>
<circle cx="2807.6" cy="2024.4" r="44.0" fill="#e8e6f0"/>
<text x="2760.5" y="1932.0" font-family="Liberation Sans" font-size="34" font-weight="700" text-anchor="middle" textLength="60.0" lengthAdjust="spacingAndGlyphs" stroke="#231f20" stroke-width="0.7">12%</text>
<text x="2709.2" y="1994.2" font-family="Liberation Sans" font-size="34" font-weight="700" text-anchor="middle" textLength="60.0" lengthAdjust="spacingAndGlyphs" stroke="#231f20" stroke-width="0.7">13%</text>
<text x="2881.9" y="2113.8" font-family="Liberation Sans" font-size="34" font-weight="700" text-anchor="middle" textLength="60.0" lengthAdjust="spacingAndGlyphs" stroke="#231f20" stroke-width="0.7">75%</text>
<text x="2641.7" y="1833.4" font-family="Liberation Sans" font-size="30" font-weight="700" textLength="108.3" lengthAdjust="spacingAndGlyphs" stroke="#231f20" stroke-width="0.7">No sabe</text>
<polyline points="2756.5,1823.7 2787.2,1823.7 2787.2,1870.6" fill="none" stroke="#231f20" stroke-width="1.5" />
<text x="2637.3" y="2203.7" font-family="Liberation Sans" font-size="30" font-weight="700" textLength="34.0" lengthAdjust="spacingAndGlyphs" stroke="#231f20" stroke-width="0.7">En</text>
<text x="2637.3" y="2238.7" font-family="Liberation Sans" font-size="30" font-weight="700" textLength="158.7" lengthAdjust="spacingAndGlyphs" stroke="#231f20" stroke-width="0.7">desacuerdo</text>
<polyline points="2656.6,2003.0 2646.1,2003.0 2646.1,2166.4" fill="none" stroke="#231f20" stroke-width="1.5" />
<text x="2967.8" y="2203.7" font-family="Liberation Sans" font-size="30" font-weight="700" text-anchor="end" textLength="35.0" lengthAdjust="spacingAndGlyphs" stroke="#231f20" stroke-width="0.7">De</text>
<text x="2967.8" y="2238.7" font-family="Liberation Sans" font-size="30" font-weight="700" text-anchor="end" textLength="110.5" lengthAdjust="spacingAndGlyphs" stroke="#231f20" stroke-width="0.7">acuerdo</text>
<polyline points="2922.2,2126.1 2953.7,2126.1 2953.7,2173.0" fill="none" stroke="#231f20" stroke-width="1.5" />
<line x1="2995.4" y1="1568.0" x2="2995.4" y2="2238.7" stroke="#85858d" stroke-width="1.3" stroke-dasharray="1.5 1.7"/>
<rect x="3047.0" y="1813.5" width="349.5" height="110.4" fill="#77c2e5"/>
<rect x="3047.0" y="1929.5" width="349.5" height="197.1" fill="#b58dbd"/>
<rect x="3047.0" y="2132.4" width="349.5" height="38.1" fill="#a0a4ae"/>
<text x="3220.0" y="1868.2" font-family="Liberation Sans" font-size="32" font-weight="700" text-anchor="middle" textLength="61.3" lengthAdjust="spacingAndGlyphs" stroke="#231f20" stroke-width="0.7">32%</text>
<text x="3215.0" y="1896.7" font-family="Liberation Sans" font-size="26" font-weight="700" text-anchor="middle" textLength="143.7" lengthAdjust="spacingAndGlyphs" stroke="#231f20" stroke-width="0.7">De acuerdo</text>
<text x="3220.0" y="2036.0" font-family="Liberation Sans" font-size="32" font-weight="700" text-anchor="middle" textLength="61.3" lengthAdjust="spacingAndGlyphs" stroke="#231f20" stroke-width="0.7">56%</text>
<text x="3214.0" y="2063.1" font-family="Liberation Sans" font-size="26" font-weight="700" text-anchor="middle" textLength="186.0" lengthAdjust="spacingAndGlyphs" stroke="#231f20" stroke-width="0.7">En desacuerdo</text>
<text x="3220.0" y="2211.2" font-family="Liberation Sans" font-size="32" font-weight="700" text-anchor="middle" textLength="61.3" lengthAdjust="spacingAndGlyphs" stroke="#231f20" stroke-width="0.7">12%</text>
<text x="3215.0" y="2238.4" font-family="Liberation Sans" font-size="26" font-weight="700" text-anchor="middle" textLength="100.0" lengthAdjust="spacingAndGlyphs" stroke="#231f20" stroke-width="0.7">No sabe</text>
<text x="672.6" y="996.0" font-family="Liberation Sans" font-size="34" textLength="374.6" lengthAdjust="spacingAndGlyphs" stroke="#231f20" stroke-width="1.0">¿Vio, escuchó o se informó</text>
<text x="672.6" y="1035.0" font-family="Liberation Sans" font-size="34" textLength="393.0" lengthAdjust="spacingAndGlyphs" stroke="#231f20" stroke-width="1.0">sobre la cadena nacional del</text>
<text x="672.6" y="1074.0" font-family="Liberation Sans" font-size="34" textLength="387.3" lengthAdjust="spacingAndGlyphs" stroke="#231f20" stroke-width="1.0">Presidente Kast de anoche?</text>
<text x="1173.0" y="996.0" font-family="Liberation Sans" font-size="34" textLength="545.0" lengthAdjust="spacingAndGlyphs" stroke="#231f20" stroke-width="1.0">¿Usted aprueba o desaprueba la forma</text>
<text x="1173.0" y="1035.0" font-family="Liberation Sans" font-size="34" textLength="409.3" lengthAdjust="spacingAndGlyphs" stroke="#231f20" stroke-width="1.0">como José Antonio Kast está</text>
<text x="1173.0" y="1074.0" font-family="Liberation Sans" font-size="34" textLength="354.4" lengthAdjust="spacingAndGlyphs" stroke="#231f20" stroke-width="1.0">conduciendo el gobierno?</text>
<text x="1872.2" y="996.0" font-family="Liberation Sans" font-size="34" textLength="718.0" lengthAdjust="spacingAndGlyphs" stroke="#231f20" stroke-width="1.0">Pensando en los próximos tres meses, ¿cree que su</text>
<text x="1872.2" y="1035.5" font-family="Liberation Sans" font-size="34" textLength="704.1" lengthAdjust="spacingAndGlyphs" stroke="#231f20" stroke-width="1.0">situación económica personal va a mejorar, seguir</text>
<text x="1872.2" y="1075.0" font-family="Liberation Sans" font-size="34" textLength="253.2" lengthAdjust="spacingAndGlyphs" stroke="#231f20" stroke-width="1.0">igual o empeorar?</text>
<text x="2804.0" y="996.0" font-family="Liberation Sans" font-size="34" textLength="535.7" lengthAdjust="spacingAndGlyphs" stroke="#231f20" stroke-width="1.0">¿Está de acuerdo o en desacuerdo con</text>
<text x="2804.0" y="1035.2" font-family="Liberation Sans" font-size="34" textLength="508.4" lengthAdjust="spacingAndGlyphs" stroke="#231f20" stroke-width="1.0">bajar el impuesto a las empresas del</text>
<text x="2804.0" y="1074.4" font-family="Liberation Sans" font-size="34" textLength="168.5" lengthAdjust="spacingAndGlyphs" stroke="#231f20" stroke-width="1.0">27% al 23%?</text>
<text x="669.0" y="1590.0" font-family="Liberation Sans" font-size="34" textLength="335.1" lengthAdjust="spacingAndGlyphs" stroke="#231f20" stroke-width="1.0">¿Cree usted que rebajar</text>
<text x="669.0" y="1629.1" font-family="Liberation Sans" font-size="34" textLength="270.3" lengthAdjust="spacingAndGlyphs" stroke="#231f20" stroke-width="1.0">progresivamente el</text>
<text x="669.0" y="1668.2" font-family="Liberation Sans" font-size="34" textLength="344.7" lengthAdjust="spacingAndGlyphs" stroke="#231f20" stroke-width="1.0">impuesto a las empresas</text>
<text x="669.0" y="1707.3" font-family="Liberation Sans" font-size="34" textLength="206.8" lengthAdjust="spacingAndGlyphs" stroke="#231f20" stroke-width="1.0">del 27% al 23%</text>
<text x="669.0" y="1746.4" font-family="Liberation Sans" font-size="34" textLength="337.3" lengthAdjust="spacingAndGlyphs" stroke="#231f20" stroke-width="1.0">contribuirá a acelerar la</text>
<text x="669.0" y="1785.5" font-family="Liberation Sans" font-size="34" textLength="357.9" lengthAdjust="spacingAndGlyphs" stroke="#231f20" stroke-width="1.0">inversión y el crecimiento</text>
<text x="669.0" y="1824.6" font-family="Liberation Sans" font-size="34" textLength="223.4" lengthAdjust="spacingAndGlyphs" stroke="#231f20" stroke-width="1.0">de la economía?</text>
<text x="1111.7" y="1590.0" font-family="Liberation Sans" font-size="34" textLength="307.6" lengthAdjust="spacingAndGlyphs" stroke="#231f20" stroke-width="1.0">¿Está de acuerdo o en</text>
<text x="1111.7" y="1629.1" font-family="Liberation Sans" font-size="34" textLength="387.4" lengthAdjust="spacingAndGlyphs" stroke="#231f20" stroke-width="1.0">desacuerdo con eliminar las</text>
<text x="1111.7" y="1668.2" font-family="Liberation Sans" font-size="34" textLength="383.4" lengthAdjust="spacingAndGlyphs" stroke="#231f20" stroke-width="1.0">contribuciones a la primera</text>
<text x="1111.7" y="1707.3" font-family="Liberation Sans" font-size="34" textLength="406.2" lengthAdjust="spacingAndGlyphs" stroke="#231f20" stroke-width="1.0">vivienda para los mayores de</text>
<text x="1111.7" y="1746.4" font-family="Liberation Sans" font-size="34" textLength="125.8" lengthAdjust="spacingAndGlyphs" stroke="#231f20" stroke-width="1.0">65 años?</text>
<text x="1642.2" y="1590.0" font-family="Liberation Sans" font-size="34" textLength="392.6" lengthAdjust="spacingAndGlyphs" stroke="#231f20" stroke-width="1.0">El Gobierno propone que las</text>
<text x="1642.2" y="1629.1" font-family="Liberation Sans" font-size="34" textLength="340.0" lengthAdjust="spacingAndGlyphs" stroke="#231f20" stroke-width="1.0">empresas que contraten</text>
<text x="1642.2" y="1668.2" font-family="Liberation Sans" font-size="34" textLength="350.5" lengthAdjust="spacingAndGlyphs" stroke="#231f20" stroke-width="1.0">trabajadores con sueldos</text>
<text x="1642.2" y="1707.3" font-family="Liberation Sans" font-size="34" textLength="397.0" lengthAdjust="spacingAndGlyphs" stroke="#231f20" stroke-width="1.0">entre$545.000 y $838.000</text>
<text x="1642.2" y="1746.4" font-family="Liberation Sans" font-size="34" textLength="443.9" lengthAdjust="spacingAndGlyphs" stroke="#231f20" stroke-width="1.0">reciban un descuento tributario</text>
<text x="1642.2" y="1785.5" font-family="Liberation Sans" font-size="34" textLength="434.2" lengthAdjust="spacingAndGlyphs" stroke="#231f20" stroke-width="1.0">del 15%. ¿Está de acuerdo o en</text>
<text x="1642.2" y="1824.6" font-family="Liberation Sans" font-size="34" textLength="413.2" lengthAdjust="spacingAndGlyphs" stroke="#231f20" stroke-width="1.0">desacuerdo con esta medida?</text>
<text x="2191.6" y="1590.0" font-family="Liberation Sans" font-size="34" textLength="346.0" lengthAdjust="spacingAndGlyphs" stroke="#231f20" stroke-width="1.0">El Presidente se propuso</text>
<text x="2191.6" y="1629.1" font-family="Liberation Sans" font-size="34" textLength="313.2" lengthAdjust="spacingAndGlyphs" stroke="#231f20" stroke-width="1.0">como meta para 2030</text>
<text x="2191.6" y="1668.2" font-family="Liberation Sans" font-size="34" textLength="363.6" lengthAdjust="spacingAndGlyphs" stroke="#231f20" stroke-width="1.0">bajar el desempleo a 6,5%</text>
<text x="2191.6" y="1707.3" font-family="Liberation Sans" font-size="34" textLength="286.9" lengthAdjust="spacingAndGlyphs" stroke="#231f20" stroke-width="1.0">y crecer al 4% anual.</text>
<text x="2191.6" y="1746.4" font-family="Liberation Sans" font-size="34" textLength="294.8" lengthAdjust="spacingAndGlyphs" stroke="#231f20" stroke-width="1.0">¿Usted cree que esas</text>
<text x="2191.6" y="1785.5" font-family="Liberation Sans" font-size="34" textLength="177.4" lengthAdjust="spacingAndGlyphs" stroke="#231f20" stroke-width="1.0">metas son...?</text>
<text x="2641.7" y="1590.0" font-family="Liberation Sans" font-size="34" textLength="307.7" lengthAdjust="spacingAndGlyphs" stroke="#231f20" stroke-width="1.0">¿Está de acuerdo o en</text>
<text x="2641.7" y="1629.1" font-family="Liberation Sans" font-size="34" textLength="217.8" lengthAdjust="spacingAndGlyphs" stroke="#231f20" stroke-width="1.0">desacuerdo con</text>
<text x="2641.7" y="1668.2" font-family="Liberation Sans" font-size="34" textLength="270.4" lengthAdjust="spacingAndGlyphs" stroke="#231f20" stroke-width="1.0">eliminar el IVA a la</text>
<text x="2641.7" y="1707.3" font-family="Liberation Sans" font-size="34" textLength="260.3" lengthAdjust="spacingAndGlyphs" stroke="#231f20" stroke-width="1.0">venta de viviendas</text>
<text x="2641.7" y="1746.4" font-family="Liberation Sans" font-size="34" textLength="311.2" lengthAdjust="spacingAndGlyphs" stroke="#231f20" stroke-width="1.0">nuevas por 12 meses?</text>
<text x="3043.4" y="1590.0" font-family="Liberation Sans" font-size="34" textLength="308.0" lengthAdjust="spacingAndGlyphs" stroke="#231f20" stroke-width="1.0">¿Está de acuerdo o en</text>
<text x="3043.4" y="1629.1" font-family="Liberation Sans" font-size="34" textLength="218.2" lengthAdjust="spacingAndGlyphs" stroke="#231f20" stroke-width="1.0">desacuerdo con</text>
<text x="3043.4" y="1668.2" font-family="Liberation Sans" font-size="34" textLength="332.1" lengthAdjust="spacingAndGlyphs" stroke="#231f20" stroke-width="1.0">suspender por 4 años el</text>
<text x="3043.4" y="1707.3" font-family="Liberation Sans" font-size="34" textLength="251.0" lengthAdjust="spacingAndGlyphs" stroke="#231f20" stroke-width="1.0">ingreso de nuevas</text>
<text x="3043.4" y="1746.4" font-family="Liberation Sans" font-size="34" textLength="342.1" lengthAdjust="spacingAndGlyphs" stroke="#231f20" stroke-width="1.0">universidades al sistema</text>
<text x="3043.4" y="1785.5" font-family="Liberation Sans" font-size="34" textLength="194.1" lengthAdjust="spacingAndGlyphs" stroke="#231f20" stroke-width="1.0">de gratuidad?</text>
</svg></body></html>
